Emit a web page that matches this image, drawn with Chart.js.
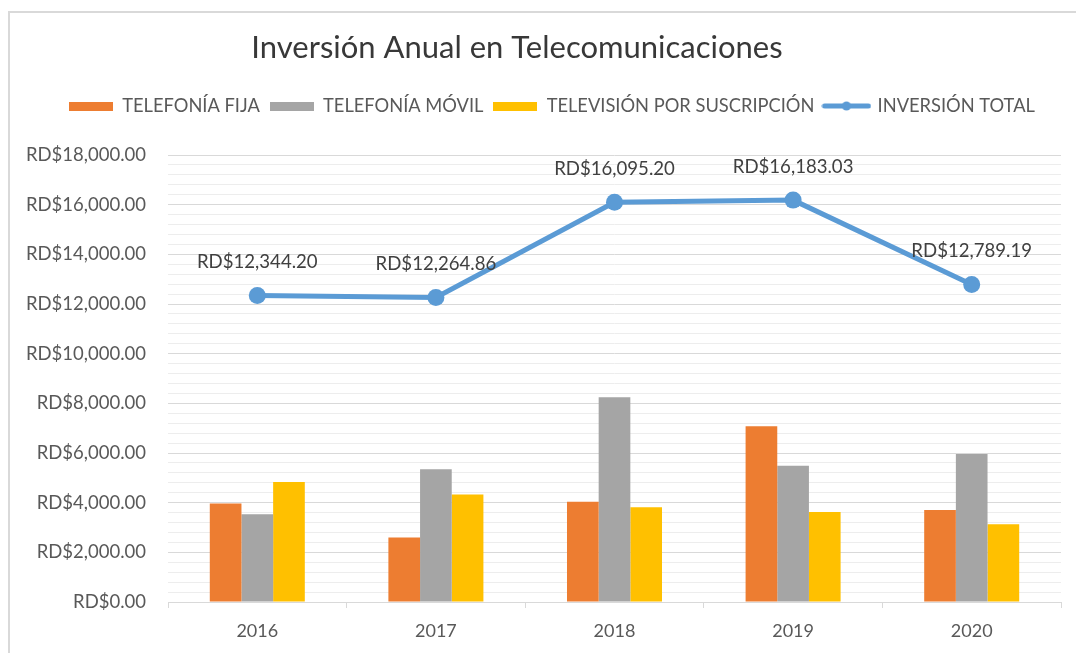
<!DOCTYPE html>
<html>
<head>
<meta charset="utf-8">
<script src="https://cdn.jsdelivr.net/npm/chart.js@4/dist/chart.umd.min.js"></script>
<style>
html,body{margin:0;padding:0;background:#fff;overflow:hidden;}
#wrap{position:relative;width:1076px;height:653px;overflow:hidden;}
#frame{position:absolute;left:8px;top:11px;width:1200px;height:800px;border-left:2px solid #d9d9d9;border-top:2px solid #d9d9d9;}
canvas{position:absolute;left:0;top:0;}
</style>
</head>
<body>
<div id="wrap"><div id="frame"></div><canvas id="c" width="1076" height="653"></canvas></div>
<script>
// ---- data ----
const TITLE = 'Inversión Anual en Telecomunicaciones';
const YEARS = ['2016', '2017', '2018', '2019', '2020'];
const SERIES_NAMES = ['TELEFONÍA FIJA', 'TELEFONÍA MÓVIL', 'TELEVISIÓN POR SUSCRIPCIÓN', 'INVERSIÓN TOTAL'];
const TELEFONIA_FIJA = [3969, 2598, 4034, 7075, 3700];
const TELEFONIA_MOVIL = [3538, 5341, 8245, 5486, 5960];
const TELEVISION_SUSCRIPCION = [4837, 4326, 3816, 3622, 3129];
const INVERSION_TOTAL = [12344.20, 12264.86, 16095.20, 16183.03, 12789.19];
const Y_MIN = 0, Y_MAX = 18000, Y_MAJOR = 2000, Y_MINOR = 400;

// ---- styles ----
const COLORS = ['#ED7D31', '#A5A5A5', '#FFC000', '#5B9BD5'];
const FONT = 'Lato, Carlito, Calibri, sans-serif';
Chart.defaults.font.family = FONT;

const fmt = v => 'RD$' + Number(v).toLocaleString('en-US', {minimumFractionDigits: 2, maximumFractionDigits: 2});

function boxMarker(color, w, h) {
  const c = document.createElement('canvas');
  c.width = w; c.height = h;
  const g = c.getContext('2d');
  g.fillStyle = color; g.fillRect(0, 0, w, h);
  return c;
}
function lineMarker(color, w, h) {
  const c = document.createElement('canvas');
  c.width = w; c.height = h;
  const g = c.getContext('2d');
  g.strokeStyle = color; g.lineWidth = 5; g.lineCap = 'round';
  g.beginPath(); g.moveTo(3, h / 2); g.lineTo(w - 3, h / 2); g.stroke();
  g.fillStyle = color; g.beginPath(); g.arc(w / 2, h / 2, 4.5, 0, Math.PI * 2); g.fill();
  return c;
}
const MARKERS = [boxMarker(COLORS[0], 44, 9), boxMarker(COLORS[1], 44, 9), boxMarker(COLORS[2], 44, 9), lineMarker(COLORS[3], 50, 12)];

const LEGEND_EXTRA = 29.85;   // extra space below the legend row
const LEGEND_SHIFT = 14;      // legend row horizontal offset

const legendSpacer = {
  id: 'legendSpacer',
  beforeLayout(chart) {
    const lg = chart.legend;
    if (lg && !lg._spaced) {
      const orig = lg.fit;
      lg.fit = function () { orig.call(this); this.height += LEGEND_EXTRA; };
      lg._spaced = true;
    }
  },
  afterLayout(chart) {
    const lg = chart.legend;
    if (lg) { lg.left += LEGEND_SHIFT; lg.right += LEGEND_SHIFT; }
  }
};

const titlePlugin = {
  id: 'customTitle',
  afterDraw(chart) {
    const ctx = chart.ctx;
    ctx.save();
    ctx.font = '31px ' + FONT;
    ctx.fillStyle = '#383838';
    ctx.textAlign = 'center';
    ctx.textBaseline = 'middle';
    ctx.fillText(TITLE, 517, 48);
    ctx.restore();
  }
};

const lineLabels = {
  id: 'lineLabels',
  afterDatasetsDraw(chart) {
    const ctx = chart.ctx;
    const idx = 3;
    const meta = chart.getDatasetMeta(idx);
    const data = chart.data.datasets[idx].data;
    ctx.save();
    ctx.font = '18.6px ' + FONT;
    ctx.fillStyle = '#404040';
    ctx.textAlign = 'center';
    ctx.textBaseline = 'middle';
    meta.data.forEach((pt, i) => {
      ctx.fillText(fmt(data[i]), pt.x, pt.y - 33.5);
    });
    ctx.restore();
  }
};

new Chart(document.getElementById('c'), {
  data: {
    labels: YEARS,
    datasets: [
      {type: 'bar', label: SERIES_NAMES[0], data: TELEFONIA_FIJA, backgroundColor: COLORS[0], borderWidth: 0},
      {type: 'bar', label: SERIES_NAMES[1], data: TELEFONIA_MOVIL, backgroundColor: COLORS[1], borderWidth: 0},
      {type: 'bar', label: SERIES_NAMES[2], data: TELEVISION_SUSCRIPCION, backgroundColor: COLORS[2], borderWidth: 0},
      {type: 'line', label: SERIES_NAMES[3], data: INVERSION_TOTAL, borderColor: COLORS[3], backgroundColor: COLORS[3],
       borderWidth: 5, pointRadius: 8.5, pointBorderWidth: 0, pointBackgroundColor: COLORS[3], tension: 0, fill: false}
    ]
  },
  options: {
    responsive: false,
    animation: false,
    layout: {padding: {top: 86.85, left: 15, right: 15, bottom: 11}},
    datasets: {bar: {barPercentage: 1, categoryPercentage: 0.532}},
    plugins: {
      title: {display: false},
      tooltip: {enabled: false},
      legend: {
        display: true,
        position: 'top',
        labels: {
          usePointStyle: true,
          pointStyleWidth: 44,
          boxHeight: 10,
          padding: 10,
          color: '#595959',
          font: {size: 18.3},
          generateLabels(chart) {
            return chart.data.datasets.map((ds, i) => ({
              text: ds.label, pointStyle: MARKERS[i], fillStyle: COLORS[i], strokeStyle: COLORS[i],
              lineWidth: 0, hidden: false, datasetIndex: i, fontColor: '#595959'
            }));
          }
        }
      }
    },
    scales: {
      x: {
        grid: {display: true, drawOnChartArea: false, drawTicks: true, tickLength: 6, color: '#d9d9d9', offset: true},
        border: {display: true, color: '#d9d9d9', width: 1},
        ticks: {color: '#595959', font: {size: 18}, padding: 12},
        afterFit(scale) { scale.height = 40; }
      },
      y: {
        min: Y_MIN, max: Y_MAX,
        ticks: {
          stepSize: Y_MINOR, autoSkip: false, padding: 22, color: '#595959', font: {size: 18.5},
          callback: v => (Math.round(v) % Y_MAJOR === 0 ? fmt(v) : '')
        },
        grid: {
          drawTicks: false,
          color: c => (c.tick && Math.round(c.tick.value) % Y_MAJOR === 0 ? '#d9d9d9' : '#ededed'),
          lineWidth: 1
        },
        border: {display: false},
        afterFit(scale) { scale.width = 153; }
      }
    }
  },
  plugins: [legendSpacer, titlePlugin, lineLabels]
});
</script>
</body>
</html>
